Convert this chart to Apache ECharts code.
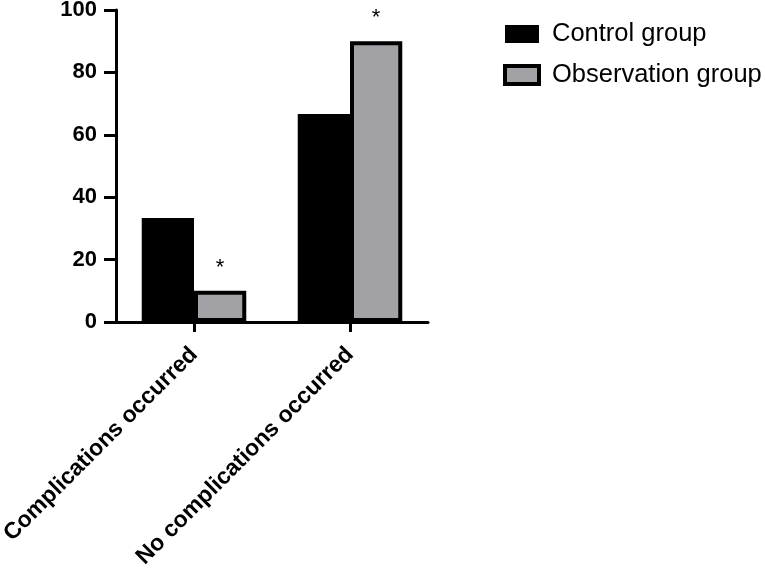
<!DOCTYPE html>
<html>
<head>
<meta charset="utf-8">
<script src="https://cdn.jsdelivr.net/npm/echarts@6/dist/echarts.min.js"></script>
<style>
  html, body { margin: 0; padding: 0; background: #fff; }
  #chart { width: 765px; height: 572px; }
</style>
</head>
<body>
<div id="chart"></div>
<script>
var categories = ['Complications occurred', 'No complications occurred'];
var controlValues = [33.33, 66.67];
var observationValues = [10, 90];
var yTicks = [0, 20, 40, 60, 80, 100];

var myChart = echarts.init(document.getElementById('chart'));
var fontFam = 'Arial, "Liberation Sans", sans-serif';

var option = {
    animation: false,
    backgroundColor: '#fff',
    grid: { left: 116, right: 337, top: 10, bottom: 250, outerBoundsMode: 'none' },
    legend: {
        orient: 'vertical',
        left: 498,
        top: 16,
        itemWidth: 34,
        itemHeight: 18,
        itemGap: 15,
        icon: 'rect',
        textStyle: { color: '#000', fontSize: 25.5, fontFamily: fontFam, padding: [0, 0, 0, 8] },
        data: [
            { name: 'Control group' },
            { name: 'Observation group', itemStyle: { borderWidth: 4, borderColor: '#000' } }
        ]
    },
    xAxis: {
        type: 'category',
        data: categories,
        axisLine: { lineStyle: { color: '#000', width: 3 } },
        axisTick: { show: true, alignWithLabel: true, length: 10, lineStyle: { width: 3 } },
        axisLabel: {
            rotate: 45, margin: 29, interval: 0,
            color: '#000', fontWeight: 'bold', fontSize: 23, fontFamily: fontFam
        }
    },
    yAxis: {
        type: 'value',
        min: yTicks[0],
        max: yTicks[yTicks.length - 1],
        interval: 20,
        splitLine: { show: false },
        axisLine: { show: true, lineStyle: { color: '#000', width: 3 } },
        axisTick: { show: true, length: 12, lineStyle: { width: 3 } },
        axisLabel: {
            margin: 19,
            color: '#000', fontWeight: 'bold', fontSize: 22, fontFamily: fontFam
        }
    },
    series: [
        {
            name: 'Control group',
            type: 'bar',
            barCategoryGap: '33%',
            barGap: 0,
            data: controlValues,
            itemStyle: { color: '#000', borderColor: '#000', borderWidth: 0 }
        },
        {
            name: 'Observation group',
            type: 'bar',
            barGap: 0,
            data: observationValues,
            itemStyle: { color: '#a2a1a6', borderColor: '#000', borderWidth: 4 },
            label: {
                show: true,
                position: 'top',
                distance: 12,
                formatter: '*',
                color: '#000',
                fontSize: 22,
                fontFamily: fontFam
            }
        }
    ]
};
myChart.setOption(option);
</script>
</body>
</html>
